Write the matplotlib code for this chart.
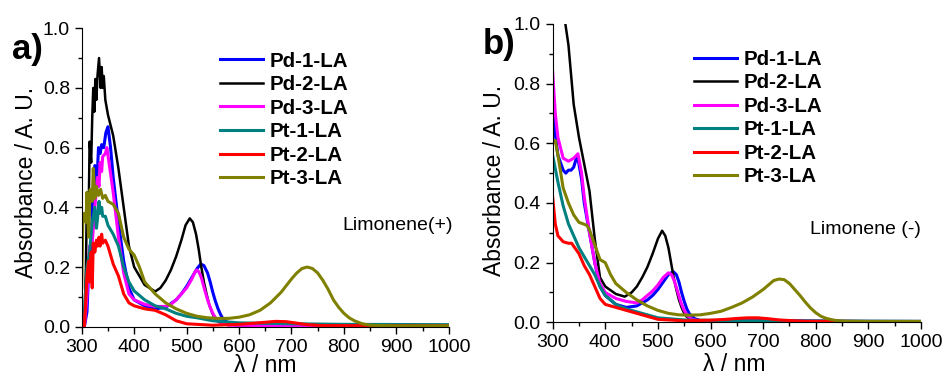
import matplotlib.pyplot as plt
from matplotlib.ticker import MultipleLocator, FormatStrFormatter

plt.rcParams['font.family'] = ['Liberation Sans', 'DejaVu Sans']

## Data ------------------------------------------------------------

names = ["Pd-1-LA", "Pd-2-LA", "Pd-3-LA", "Pt-1-LA", "Pt-2-LA", "Pt-3-LA"]
colors = ["#0000ff", "#000000", "#ff00ff", "#008080", "#ff0000", "#808000"]

# Panel a, Limonene(+)
a_pd1_x = [305, 310, 313, 315, 318, 320, 322, 325, 328, 332, 335, 338, 342, 346, 350, 355, 360, 370, 380, 390, 400, 420, 440, 460, 480, 490, 500, 510, 520, 527, 533, 540, 545, 550, 555, 560, 565, 570, 580, 590, 700, 800, 1000]
a_pd1_y = [0.0, 0.05, 0.18, 0.25, 0.2, 0.4, 0.45, 0.54, 0.45, 0.6, 0.58, 0.61, 0.6, 0.65, 0.67, 0.6, 0.5, 0.35, 0.22, 0.13, 0.09, 0.07, 0.06, 0.065, 0.09, 0.11, 0.135, 0.165, 0.195, 0.21, 0.205, 0.18, 0.15, 0.115, 0.085, 0.06, 0.04, 0.025, 0.012, 0.007, 0.004, 0.003, 0.003]

a_pd2_x = [305, 308, 310, 313, 315, 318, 320, 322, 324, 326, 328, 330, 333, 336, 338, 340, 342, 345, 350, 360, 370, 380, 390, 400, 420, 440, 450, 460, 470, 480, 490, 498, 506, 512, 518, 523, 528, 533, 538, 543, 548, 553, 560, 570, 600, 700, 800, 1000]
a_pd2_y = [0.0, 0.2, 0.45, 0.35, 0.62, 0.55, 0.7, 0.8, 0.72, 0.83, 0.76, 0.84, 0.9, 0.8, 0.87, 0.8, 0.84, 0.76, 0.71, 0.64, 0.53, 0.4, 0.27, 0.2, 0.14, 0.118, 0.13, 0.155, 0.19, 0.235, 0.29, 0.34, 0.363, 0.35, 0.31, 0.26, 0.2, 0.15, 0.11, 0.075, 0.05, 0.03, 0.017, 0.01, 0.005, 0.004, 0.003, 0.003]

a_pd3_x = [305, 310, 315, 320, 323, 325, 330, 333, 335, 338, 340, 345, 348, 352, 360, 370, 380, 390, 400, 420, 440, 460, 470, 480, 490, 500, 510, 515, 519, 523, 528, 535, 540, 545, 550, 555, 560, 570, 580, 700, 1000]
a_pd3_y = [0.0, 0.1, 0.27, 0.28, 0.35, 0.4, 0.5, 0.47, 0.55, 0.52, 0.57, 0.58, 0.6, 0.55, 0.45, 0.3, 0.18, 0.11, 0.09, 0.075, 0.068, 0.068, 0.075, 0.09, 0.11, 0.13, 0.16, 0.18, 0.19, 0.185, 0.165, 0.12, 0.09, 0.065, 0.045, 0.03, 0.02, 0.01, 0.005, 0.003, 0.002]

a_pt1_x = [305, 310, 315, 320, 325, 328, 330, 333, 335, 338, 340, 345, 350, 360, 370, 380, 390, 400, 420, 440, 460, 480, 500, 520, 550, 600, 700, 800, 1000]
a_pt1_y = [0.05, 0.2, 0.25, 0.35, 0.4, 0.33, 0.36, 0.42, 0.38, 0.4, 0.37, 0.37, 0.34, 0.31, 0.27, 0.2, 0.15, 0.12, 0.09, 0.07, 0.06, 0.045, 0.035, 0.03, 0.02, 0.013, 0.01, 0.008, 0.007]

a_pt2_x = [305, 308, 310, 313, 315, 318, 320, 322, 325, 328, 330, 333, 335, 338, 340, 345, 350, 360, 370, 380, 390, 400, 420, 440, 460, 480, 500, 550, 600, 630, 650, 670, 690, 710, 730, 760, 1000]
a_pt2_y = [0.0, 0.1, 0.17, 0.22, 0.15, 0.25, 0.13, 0.28, 0.25, 0.29, 0.27, 0.3, 0.27, 0.31, 0.28, 0.29, 0.27, 0.21, 0.17, 0.11, 0.08, 0.07, 0.06, 0.055, 0.04, 0.02, 0.01, 0.005, 0.008, 0.012, 0.015, 0.018, 0.017, 0.012, 0.007, 0.004, 0.003]

a_pt3_x = [300, 302, 305, 308, 310, 313, 316, 320, 322, 325, 328, 332, 336, 340, 345, 350, 360, 370, 380, 390, 400, 410, 420, 440, 460, 480, 500, 520, 540, 560, 580, 600, 620, 640, 660, 680, 700, 710, 720, 730, 740, 750, 760, 770, 780, 790, 800, 810, 820, 835, 850, 900, 1000]
a_pt3_y = [0.13, 0.35, 0.38, 0.35, 0.45, 0.3, 0.46, 0.42, 0.53, 0.43, 0.47, 0.44, 0.46, 0.43, 0.44, 0.42, 0.41, 0.38, 0.3, 0.26, 0.24, 0.2, 0.15, 0.11, 0.08, 0.06, 0.045, 0.035, 0.03, 0.028, 0.028, 0.032, 0.04, 0.055, 0.08, 0.115, 0.16, 0.18, 0.195, 0.2, 0.195, 0.18, 0.155, 0.125, 0.09, 0.065, 0.045, 0.03, 0.02, 0.01, 0.005, 0.003, 0.003]

# Panel b, Limonene (-)
b_pd1_x = [300, 305, 310, 320, 325, 330, 335, 340, 345, 348, 355, 360, 370, 380, 390, 400, 420, 440, 460, 480, 490, 500, 510, 520, 529, 535, 540, 545, 550, 555, 560, 570, 580, 600, 1000]
b_pd1_y = [0.75, 0.63, 0.56, 0.51, 0.5, 0.51, 0.51, 0.52, 0.55, 0.55, 0.48, 0.4, 0.3, 0.2, 0.12, 0.09, 0.06, 0.05, 0.055, 0.075, 0.09, 0.11, 0.135, 0.16, 0.17, 0.16, 0.135, 0.1, 0.07, 0.045, 0.028, 0.012, 0.006, 0.004, 0.003]

b_pd2_x = [300, 320, 330, 340, 350, 360, 370, 380, 390, 400, 420, 437, 450, 460, 470, 480, 490, 500, 508, 514, 520, 525, 530, 535, 540, 545, 550, 555, 565, 1000]
b_pd2_y = [1.3, 1.05, 0.93, 0.73, 0.62, 0.53, 0.44, 0.28, 0.15, 0.12, 0.095, 0.086, 0.1, 0.12, 0.15, 0.185, 0.23, 0.28, 0.307, 0.29, 0.25, 0.2, 0.15, 0.11, 0.075, 0.05, 0.03, 0.018, 0.008, 0.002]

b_pd3_x = [300, 305, 310, 320, 330, 340, 348, 355, 360, 370, 380, 390, 400, 420, 440, 460, 470, 480, 490, 500, 510, 520, 526, 532, 538, 544, 550, 556, 565, 580, 1000]
b_pd3_y = [0.84, 0.7, 0.62, 0.55, 0.54, 0.55, 0.565, 0.5, 0.42, 0.3, 0.2, 0.13, 0.1, 0.08, 0.07, 0.065, 0.075, 0.09, 0.105, 0.125, 0.15, 0.166, 0.16, 0.135, 0.1, 0.065, 0.04, 0.022, 0.01, 0.005, 0.002]

b_pt1_x = [300, 310, 320, 330, 340, 350, 360, 370, 380, 390, 400, 420, 440, 460, 480, 500, 550, 600, 1000]
b_pt1_y = [0.56, 0.47, 0.39, 0.33, 0.29, 0.25, 0.22, 0.19, 0.16, 0.12, 0.09, 0.06, 0.045, 0.035, 0.025, 0.015, 0.008, 0.005, 0.003]

b_pt2_x = [300, 305, 310, 320, 330, 336, 340, 350, 360, 370, 380, 390, 400, 420, 440, 460, 480, 500, 550, 600, 630, 650, 670, 690, 710, 730, 780, 1000]
b_pt2_y = [0.42, 0.33, 0.29, 0.27, 0.265, 0.265, 0.255, 0.23, 0.19, 0.16, 0.12, 0.08, 0.06, 0.05, 0.04, 0.03, 0.02, 0.01, 0.005, 0.007, 0.01, 0.013, 0.015, 0.015, 0.012, 0.008, 0.003, 0.002]

b_pt3_x = [300, 305, 310, 320, 330, 340, 350, 358, 365, 370, 380, 390, 400, 410, 420, 440, 460, 480, 500, 520, 540, 560, 580, 600, 620, 640, 660, 680, 700, 710, 720, 730, 740, 750, 760, 770, 780, 790, 800, 810, 820, 835, 850, 900, 1000]
b_pt3_y = [0.6, 0.61, 0.56, 0.45, 0.4, 0.36, 0.335, 0.33, 0.325, 0.31, 0.26, 0.21, 0.2, 0.16, 0.13, 0.1, 0.075, 0.055, 0.04, 0.03, 0.025, 0.024, 0.025, 0.03, 0.037, 0.05, 0.065, 0.085, 0.11, 0.125, 0.14, 0.145, 0.143, 0.13, 0.11, 0.09, 0.068, 0.048, 0.032, 0.02, 0.013, 0.007, 0.004, 0.003, 0.003]

panel_a = [(a_pd1_x, a_pd1_y), (a_pd2_x, a_pd2_y), (a_pd3_x, a_pd3_y),
           (a_pt1_x, a_pt1_y), (a_pt2_x, a_pt2_y), (a_pt3_x, a_pt3_y)]
panel_b = [(b_pd1_x, b_pd1_y), (b_pd2_x, b_pd2_y), (b_pd3_x, b_pd3_y),
           (b_pt1_x, b_pt1_y), (b_pt2_x, b_pt2_y), (b_pt3_x, b_pt3_y)]


## Plotting --------------------------------------------------------

def draw_panel(ax, curves, tag, solvent, solvent_xy, leg_xy, ylab_xy, xlab_xy):
    for (x, y), name, col in zip(curves, names, colors):
        lw = 1.8 if col == "#000000" else 2.2
        ax.plot(x, y, color=col, lw=lw, label=name, solid_joinstyle="round")
    ax.set_xlim(300, 1000)
    ax.set_ylim(0, 1.0)
    ax.spines["top"].set_visible(False)
    ax.spines["right"].set_visible(False)
    ax.xaxis.set_major_locator(MultipleLocator(100))
    ax.xaxis.set_minor_locator(MultipleLocator(50))
    ax.yaxis.set_major_locator(MultipleLocator(0.2))
    ax.yaxis.set_minor_locator(MultipleLocator(0.1))
    ax.yaxis.set_major_formatter(FormatStrFormatter("%.1f"))
    ax.tick_params(which="major", direction="out", length=5, width=1, labelsize=14, pad=3.5)
    ax.tick_params(which="minor", direction="out", length=3, width=1)
    ax.set_xlabel("λ / nm", fontsize=16.5)
    ax.set_ylabel("Absorbance / A. U.", fontsize=16.5)
    ax.yaxis.set_label_coords(*ylab_xy)
    ax.xaxis.set_label_coords(*xlab_xy)
    ax.text(-0.19, 0.93, tag, transform=ax.transAxes, fontsize=25,
            fontweight="bold", va="center", ha="left")
    ax.text(solvent_xy[0], solvent_xy[1], solvent, transform=ax.transAxes,
            fontsize=14, ha="right", va="center")
    ax.legend(loc="upper left", bbox_to_anchor=leg_xy, frameon=False,
              prop={"weight": "bold", "size": 14.8}, handlelength=2.1,
              handletextpad=0.3, labelspacing=0.22, borderaxespad=0)


fig = plt.figure(figsize=(9.46, 3.76), dpi=100)
ax_a = fig.add_axes([0.0864, 0.131, 0.388, 0.794])
ax_b = fig.add_axes([0.5842, 0.1428, 0.3894, 0.7934])

draw_panel(ax_a, panel_a, "a)", "Limonene(+)", (1.01, 0.34),
           (0.354, 0.949), (-0.12, 0.485), (0.499, -0.092))
draw_panel(ax_b, panel_b, "b)", "Limonene (-)", (1.0, 0.31),
           (0.361, 0.941), (-0.127, 0.474), (0.492, -0.102))

fig.savefig("out.png", dpi=100)
